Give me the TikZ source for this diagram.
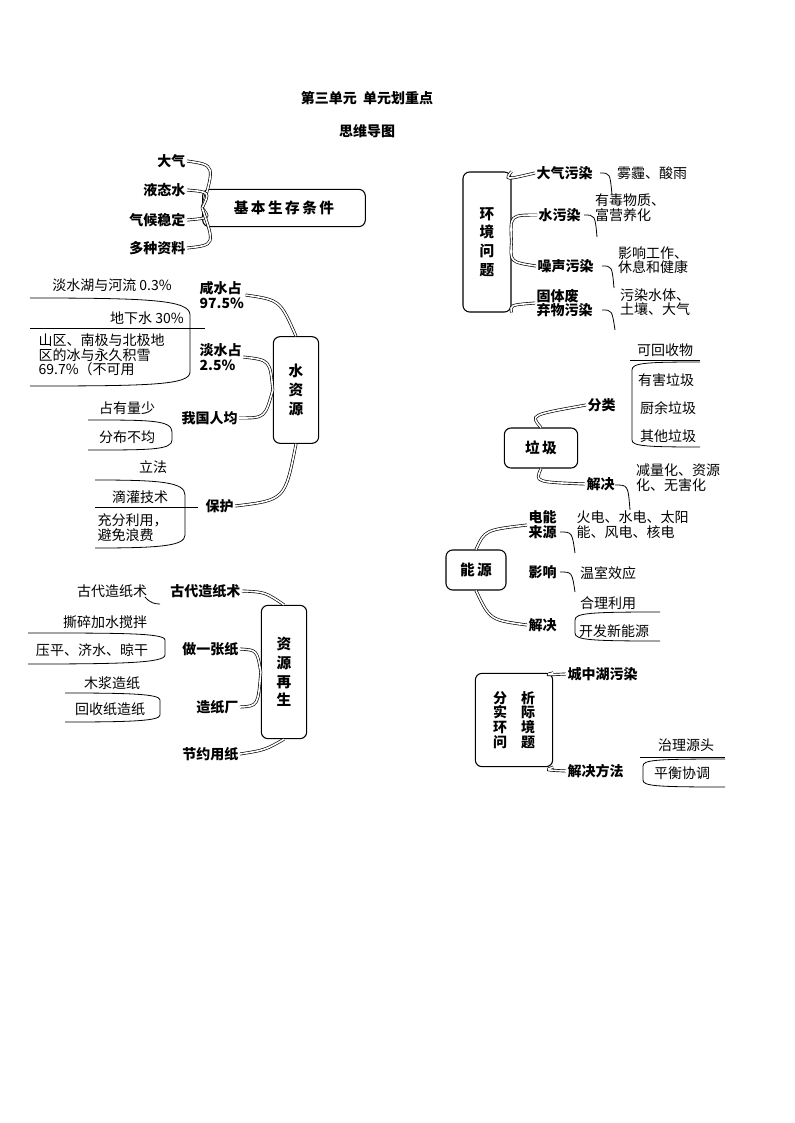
\documentclass[tikz,border=0pt]{standalone}
\usepackage{fontspec}
\setmainfont{Noto Sans CJK SC}
\begin{document}
\begin{tikzpicture}[x=0.75pt,y=-0.75pt,
  every node/.style={inner sep=1pt,font=\fontsize{10.5}{11}\selectfont},
  b/.style={font=\fontsize{10.5}{11}\selectfont\bfseries},
  n/.style={},
  box/.style={draw,rounded corners=5pt,thick,font=\fontsize{11}{14}\selectfont\bfseries,align=center,inner sep=3pt},
  con/.style={double,double distance=1.2pt,line width=0.5pt},
  thin/.style={line width=0.6pt}]
\useasboundingbox (0,0) rectangle (794,1123);
\node[b] (t1) at (367,98) {第三单元\ \ 单元划重点};
\node[b] (t2) at (367,131) {思维导图};
% 基本生存条件
\node[box,minimum width=122,minimum height=28] (A) at (284,208) {基\,本\,生\,存\,条\,件};
\node[b,anchor=east] (a1) at (187,161) {大气};
\node[b,anchor=east] (a2) at (187,190) {液态水};
\node[b,anchor=east] (a3) at (187,220) {气候稳定};
\node[b,anchor=east] (a4) at (187,248) {多种资料};
\draw[con] (a1.east) .. controls (215,165) .. (A.west);
\draw[con] (a2.east) .. controls (210,192) .. (A.west);
\draw[con] (a3.east) .. controls (210,218) .. (A.west);
\draw[con] (a4.east) .. controls (215,245) .. (A.west);
% 水资源
\node[box,minimum width=34,minimum height=80] (W) at (296,390) {水\\资\\源};
\node[b,align=left,anchor=west] (w1) at (198,295) {咸水占\\97.5\%};
\node[b,align=left,anchor=west] (w2) at (198,357) {淡水占\\2.5\%};
\node[b,anchor=west] (w3) at (180,418) {我国人均};
\node[b,anchor=west] (w4) at (204,506) {保护};
\draw[con] (w1.east) .. controls (280,300) .. (W.north);
\draw[con] (w2.east) .. controls (270,360) .. (W.west);
\draw[con] (w3.east) .. controls (265,418) .. (W.west);
\draw[con] (w4.east) .. controls (285,500) .. (W.south);
\node[n] (s1) at (112,285) {淡水湖与河流 0.3\%};
\draw[thin] (30,298) .. controls (150,298) and (190,300) .. (190,315) -- (190,372) .. controls (190,385) and (150,386) .. (30,386);
\draw[thin] (30,328) -- (205,328);
\node[n] (s2) at (147,318) {地下水 30\%};
\node[n,align=left,anchor=north west] (s3) at (37,332) {山区、南极与北极地\\区的冰与永久积雪\\69.7\%（不可用};
\node[n] (s4) at (127,408) {占有量少};
\draw[thin] (88,420) .. controls (150,420) and (172,420) .. (172,432) -- (172,440) .. controls (172,450) and (150,450) .. (88,450);
\node[n] (s5) at (127,437) {分布不均};
\node[n] (s6) at (153,467) {立法};
\draw[thin] (95,480) .. controls (160,480) and (185,482) .. (185,495) -- (185,535) .. controls (185,546) and (160,548) .. (95,548);
\draw[thin] (95,507) -- (198,507);
\node[n] (s7) at (140,497) {滴灌技术};
\node[n,align=left,anchor=north west] (s8) at (96,512) {充分利用，\\避免浪费};
% 资源再生
\node[box,minimum width=34,minimum height=100] (R) at (284,672) {资\\源\\再\\生};
\node[b,anchor=east] (r1) at (242,591) {古代造纸术};
\node[b,anchor=east] (r2) at (240,649) {做一张纸};
\node[b,anchor=east] (r3) at (240,707) {造纸厂};
\node[b,anchor=east] (r4) at (240,754) {节约用纸};
\draw[con] (r1.east) .. controls (265,592) .. (R.north);
\draw[con] (r2.east) .. controls (257,650) .. (R.west);
\draw[con] (r3.east) .. controls (258,706) .. (R.west);
\draw[con] (r4.east) .. controls (265,750) .. (R.south);
\node[n] (p1) at (112,591) {古代造纸术};
\draw[thin] (145,597) .. controls (150,603) and (155,604) .. (160,604);
\node[n] (p2) at (105,622) {撕碎加水搅拌};
\draw[thin] (28,633) .. controls (120,633) and (165,633) .. (165,640) -- (165,655) .. controls (165,663) and (120,664) .. (28,664);
\node[n] (p3) at (92,650) {压平、济水、晾干};
\node[n] (p4) at (112,683) {木浆造纸};
\draw[thin] (65,693) .. controls (130,693) and (160,694) .. (160,700) -- (160,715) .. controls (160,721) and (130,722) .. (65,722);
\node[n] (p5) at (110,709) {回收纸造纸};
% 环境问题
\node[box,minimum width=36,minimum height=105] (E) at (487,242) {环\\境\\问\\题};
\node[b,anchor=west] (e1) at (535,173) {大气污染};
\node[b,anchor=west] (e2) at (537,215) {水污染};
\node[b,anchor=west] (e3) at (536,266) {噪声污染};
\node[b,align=left,anchor=west] (e4) at (535,303) {固体废\\弃物污染};
\draw[con] (E.north east) .. controls (505,180) .. (e1.west);
\draw[con] (E.east) .. controls (510,215) .. (e2.west);
\draw[con] (E.east) .. controls (510,262) .. (e3.west);
\draw[con] (E.south east) .. controls (510,305) .. (e4.west);
\node[n] (f1) at (652,173) {雾霾、酸雨};
\node[n,align=left] (f2) at (630,208) {有毒物质、\\富营养化};
\node[n,align=left] (f3) at (653,260) {影响工作、\\休息和健康};
\node[n,align=left] (f4) at (655,302) {污染水体、\\土壤、大气};
\draw[thin] (600,173) .. controls (610,173) .. (612,195);
\draw[thin] (584,215) .. controls (595,215) .. (597,237);
\draw[thin] (602,266) .. controls (612,266) .. (614,288);
\draw[thin] (602,310) .. controls (612,310) .. (615,330);
% 垃圾
\node[box,minimum width=55,minimum height=30] (G) at (541,448) {垃\,圾};
\node[b,anchor=west] (g1) at (586,405) {分类};
\node[b,anchor=west] (g2) at (585,484) {解决};
\draw[con] (G.north) .. controls (530,415) .. (g1.west);
\draw[con] (G.south) .. controls (535,482) .. (g2.west);
\node[n] (h1) at (665,350) {可回收物};
\draw[thin] (630,360) -- (700,360);
\draw[thin] (700,362) .. controls (645,362) and (632,363) .. (632,370) -- (632,440) .. controls (632,446) and (645,447) .. (700,447);
\node[n] (h2) at (666,380) {有害垃圾};
\node[n] (h3) at (668,408) {厨余垃圾};
\node[n] (h4) at (668,436) {其他垃圾};
\node[n,align=left] (h5) at (678,478) {减量化、资源\\化、无害化};
\draw[thin] (615,485) .. controls (628,485) .. (630,510);
% 能源
\node[box,minimum width=45,minimum height=30] (N) at (476,570) {能\,源};
\node[b,align=left,anchor=west] (n1) at (527,525) {电能\\来源};
\node[b,anchor=west] (n2) at (527,572) {影响};
\node[b,anchor=west] (n3) at (527,625) {解决};
\draw[con] (N.north) .. controls (485,530) .. (n1.west);
\draw[con] (N.south) .. controls (490,620) .. (n3.west);
\node[n,align=left,anchor=west] (o1) at (575,525) {火电、水电、太阳\\能、风电、核电};
\node[n] (o2) at (608,573) {温室效应};
\node[n] (o3) at (608,603) {合理利用};
\draw[thin] (660,612) .. controls (590,612) and (575,613) .. (575,620) -- (575,633) .. controls (575,640) and (590,641) .. (660,641);
\node[n] (o4) at (614,631) {开发新能源};
\draw[thin] (560,532) .. controls (572,532) .. (575,553);
\draw[thin] (560,572) .. controls (572,572) .. (575,592);
% 分析实际环境问题
\node[box,minimum width=58,minimum height=70,font=\fontsize{10.5}{11}\selectfont\bfseries] (K) at (514,720) {分\quad 析\\实\quad 际\\环\quad 境\\问\quad 题};
\node[b,anchor=west] (k1) at (566,674) {城中湖污染};
\node[b,anchor=west] (k2) at (566,771) {解决方法};
\draw[con] (K.north east) .. controls (545,675) .. (k1.west);
\draw[con] (K.south east) .. controls (545,770) .. (k2.west);
\node[n] (m1) at (686,745) {治理源头};
\draw[thin] (640,757) -- (725,757);
\draw[thin] (725,759) .. controls (655,759) and (643,760) .. (643,766) -- (643,780) .. controls (643,786) and (655,787) .. (725,787);
\node[n] (m2) at (682,773) {平衡协调};
\end{tikzpicture}
\end{document}
